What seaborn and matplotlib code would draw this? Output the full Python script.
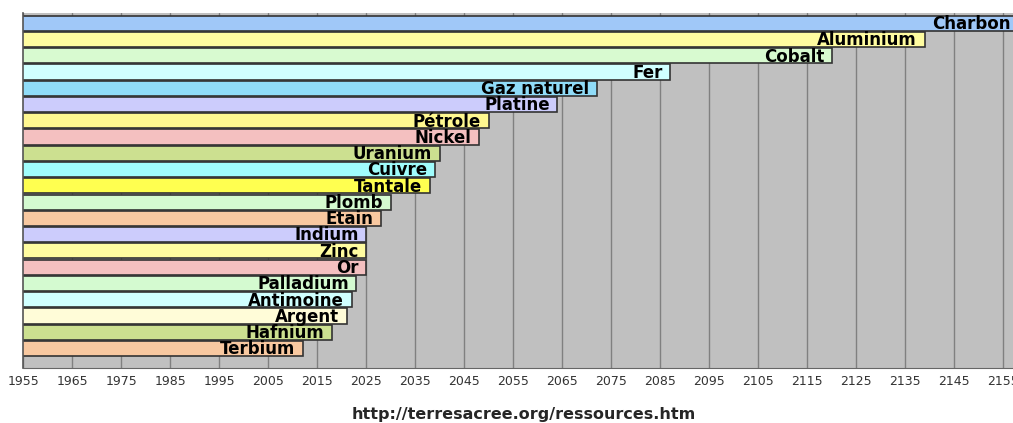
import matplotlib
matplotlib.use("Agg")
import matplotlib.pyplot as plt
import seaborn as sns

# depletion year of each resource
names = ['Charbon', 'Aluminium', 'Cobalt', 'Fer', 'Gaz naturel', 'Platine',
         'Pétrole', 'Nickel', 'Uranium', 'Cuivre', 'Tantale', 'Plomb', 'Etain',
         'Indium', 'Zinc', 'Or', 'Palladium', 'Antimoine', 'Argent', 'Hafnium',
         'Terbium']
years = [2158, 2139, 2120, 2087, 2072, 2064, 2050, 2048, 2040, 2039, 2038,
         2030, 2028, 2025, 2025, 2025, 2023, 2022, 2021, 2018, 2012]
colors = ['#a0c8f8', '#fffca0', '#d8fad0', '#d0ffff', '#90dcf8', '#ccccfc',
          '#fff890', '#f4c0c0', '#cce090', '#a0fcfc', '#ffff50', '#d4fad0',
          '#f8c8a0', '#ccccfc', '#fffca0', '#f4c0c0', '#d4fad0', '#d0ffff',
          '#fffcd8', '#cce090', '#f8c8a0']
tick_years = list(range(1955, 2156, 10))

sns.set_style("whitegrid", {"axes.facecolor": "#c0c0c0",
                            "grid.color": "#808080",
                            "axes.edgecolor": "#555555"})
plt.rcParams['font.family'] = ['DejaVu Sans']

fig = plt.figure(figsize=(10.13, 4.23), dpi=100)
ax = fig.add_axes([0.023, 0.130, 0.977, 0.839])

sns.barplot(x=years, y=names, hue=names, palette=colors, legend=False,
            orient='h', width=0.93, edgecolor='#333333', linewidth=1.2,
            saturation=1, ax=ax)

for i, (n, yr) in enumerate(zip(names, years)):
    ax.annotate(n, (yr, i), xytext=(-5.5, -0.6), textcoords='offset points',
                ha='right', va='center', fontsize=12, fontweight='bold',
                color='black', annotation_clip=False)

ax.set_xlim(1955, 2157)
ax.set_ylim(len(names) - 1 + 1.2, -0.62)
ax.set_xticks(tick_years)
ax.set_xticklabels([str(t) for t in tick_years], fontsize=9, color='#333333')
ax.set_yticks([])
ax.set_xlabel('')
ax.set_ylabel('')
ax.grid(axis='y', visible=False)
ax.grid(axis='x', linewidth=1.0)
ax.set_axisbelow(True)
ax.tick_params(axis='x', length=3, color='#666666', pad=2)
for s in ['top', 'right']:
    ax.spines[s].set_visible(False)
ax.spines['left'].set_linewidth(1.2)
ax.spines['bottom'].set_color('#666666')

fig.text(0.517, 0.002, 'http://terresacree.org/ressources.htm',
         ha='center', va='bottom', fontsize=11.5, fontweight='bold')

fig.savefig('out.png', dpi=100)
